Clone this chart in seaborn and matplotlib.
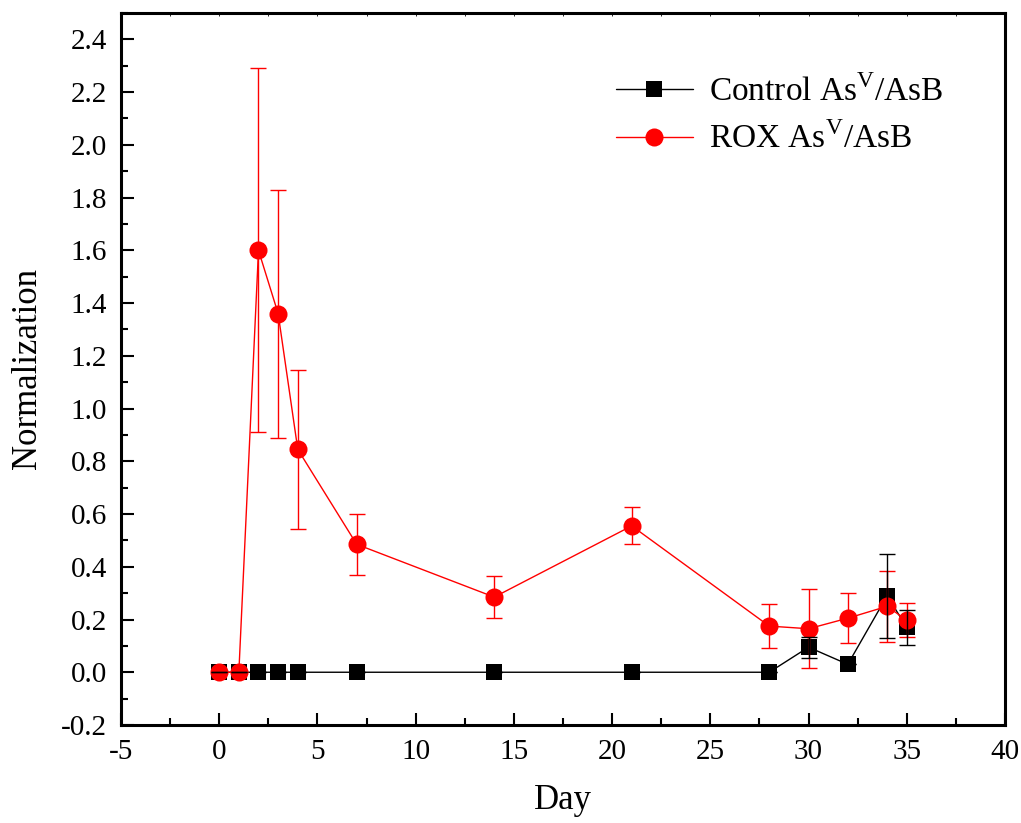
import numpy as np
import pandas as pd
import seaborn as sns
import matplotlib.pyplot as plt
from matplotlib.ticker import MultipleLocator

days = [0, 1, 2, 3, 4, 7, 14, 21, 28, 30, 32, 34, 35]

control_vals = [0, 0, 0, 0, 0, 0, 0, 0, 0, 0.095, 0.03, 0.29, 0.17]
control_err = [0, 0, 0, 0, 0, 0, 0, 0, 0, 0.04, 0.0, 0.16, 0.065]

rox_vals = [0, 0, 1.60, 1.36, 0.845, 0.485, 0.285, 0.555, 0.175, 0.165, 0.205, 0.25, 0.197]
rox_err = [0, 0, 0.69, 0.47, 0.30, 0.115, 0.08, 0.07, 0.083, 0.15, 0.095, 0.135, 0.065]

yticks = [-0.2, 0.0, 0.2, 0.4, 0.6, 0.8, 1.0, 1.2, 1.4, 1.6, 1.8, 2.0, 2.2, 2.4]

label_ctrl = r'Control As$^{\mathrm{V}}$/AsB'
label_rox = r'ROX As$^{\mathrm{V}}$/AsB'

sns.set_style('ticks', {'text.color': 'black', 'axes.labelcolor': 'black',
                        'xtick.color': 'black', 'ytick.color': 'black'})
plt.rcParams['font.family'] = ['Liberation Serif', 'DejaVu Serif']
plt.rcParams['mathtext.fontset'] = 'custom'
plt.rcParams['mathtext.rm'] = 'Liberation Serif'
plt.rcParams['axes.unicode_minus'] = False

df_c = pd.DataFrame({'day': days, 'val': control_vals})
df_r = pd.DataFrame({'day': days, 'val': rox_vals})

fig = plt.figure(figsize=(10.21, 8.23), dpi=100)
ax = fig.add_axes([0.1185, 0.1191, 0.8658, 0.8651])

sns.lineplot(data=df_c, x='day', y='val', ax=ax, color='black', lw=1.0,
             marker='s', markersize=11.5, markeredgewidth=0, label=label_ctrl)
sns.lineplot(data=df_r, x='day', y='val', ax=ax, color='red', lw=1.0,
             marker='o', markersize=13, markeredgewidth=0, label=label_rox)

# error bars drawn over the markers
ax.errorbar(days, rox_vals, yerr=rox_err, fmt='none', ecolor='red',
            elinewidth=1.0, capsize=6, capthick=1.0, zorder=5)
ax.errorbar(days, control_vals, yerr=control_err, fmt='none', ecolor='black',
            elinewidth=1.0, capsize=6, capthick=1.0, zorder=6)

ax.set_xlim(-5, 40)
ax.set_ylim(-0.2, 2.5)
ax.xaxis.set_major_locator(MultipleLocator(5))
ax.xaxis.set_minor_locator(MultipleLocator(2.5))
ax.yaxis.set_minor_locator(MultipleLocator(0.1))
ax.set_yticks(yticks)
ax.set_yticklabels([f'{v:.1f}' for v in yticks])

ax.tick_params(axis='both', which='major', direction='in', length=9, width=1.5,
               labelsize=21, pad=10, colors='black')
ax.tick_params(axis='both', which='minor', direction='in', length=5, width=1.5)
ax.xaxis.set_tick_params(which='both', top=True)
# faint little ticks on the top edge
for t in ax.xaxis.get_ticklines(minor=False)[1::2]:
    t.set_markersize(2)
    t.set_markeredgewidth(0.6)
for t in ax.xaxis.get_ticklines(minor=True)[1::2]:
    t.set_markersize(2)
    t.set_markeredgewidth(0.6)

for s in ax.spines.values():
    s.set_linewidth(2.2)
    s.set_color('black')

ax.set_xlabel('Day', fontsize=25, labelpad=14, color='black')
ax.set_ylabel('Normalization', fontsize=25, labelpad=12, color='black')

leg = ax.legend(loc='upper right', bbox_to_anchor=(0.965, 0.955), frameon=False,
                fontsize=24, handlelength=2.3, handletextpad=0.5, labelspacing=0.45)
for txt in leg.get_texts():
    txt.set_color('black')

fig.savefig('out.png', dpi=100)
